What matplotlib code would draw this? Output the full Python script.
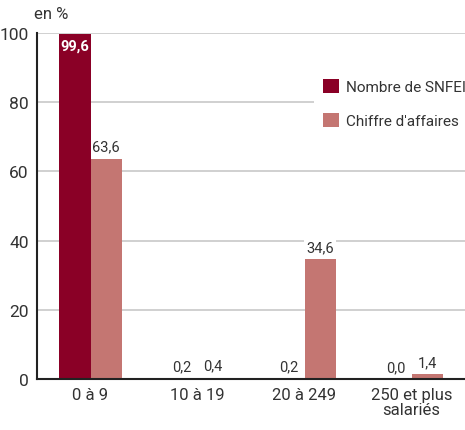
import numpy as np
import matplotlib.pyplot as plt

categories = ['0 à 9', '10 à 19', '20 à 249', '250 et plus\nsalariés']
nombre = [99.6, 0.2, 0.2, 0.0]
chiffre = [63.6, 0.4, 34.6, 1.4]
labels_nombre = ['99,6', '0,2', '0,2', '0,0']
labels_chiffre = ['63,6', '0,4', '34,6', '1,4']
series_names = ['Nombre de SNFEI', "Chiffre d'affaires"]
yticks = [0, 20, 40, 60, 80, 100]

dark = '#8a0026'
light = '#c47672'
txt = '#333333'

plt.rcParams['font.family'] = ['Roboto', 'DejaVu Sans']

fig = plt.figure(figsize=(4.65, 4.31), dpi=100)
ax = fig.add_axes([0.0796, 0.1183, 0.9204, 0.8028])

x = np.arange(len(categories))
w = 0.29
ax.bar(x - w / 2, nombre, w, color=dark, label=series_names[0], zorder=2)
ax.bar(x + w / 2, chiffre, w, color=light, label=series_names[1], zorder=2)

for i, (v, s) in enumerate(zip(nombre, labels_nombre)):
    if v > 90:
        ax.text(x[i] - w / 2, v - 1.2, s, ha='center', va='top', color='white',
                fontsize=10.5, fontweight='bold', zorder=3)
    else:
        ax.text(x[i] - w / 2, v + 1.5, s, ha='center', va='bottom', color=txt,
                fontsize=10.5, zorder=3)
for i, (v, s) in enumerate(zip(chiffre, labels_chiffre)):
    box = None
    if i > 0:
        box = dict(facecolor='white', edgecolor='none', pad=1.5)
    ax.text(x[i] + w / 2, v + 1.5, s, ha='center', va='bottom', color=txt,
            fontsize=10.5, zorder=3, bbox=box)

ax.set_xlim(-0.5, 3.5)
ax.set_ylim(0, 100)
ax.set_yticks(yticks)
ax.set_yticklabels([str(t) for t in yticks], fontsize=12.5, color=txt)
ax.set_xticks(x)
ax.set_xticklabels(categories, fontsize=12, color=txt, va='top', linespacing=1.0)
ax.tick_params(length=0, pad=6)
ax.tick_params(axis='y', pad=6)
ax.yaxis.grid(True, color='#c8c8c8', linewidth=1.2, zorder=0)
ax.set_axisbelow(True)
for s in ['top', 'right']:
    ax.spines[s].set_visible(False)
ax.spines['left'].set_linewidth(1.5)
ax.spines['bottom'].set_linewidth(1.5)
ax.spines['left'].set_color('#222222')
ax.spines['bottom'].set_color('#222222')

ax.text(-0.008, 1.035, 'en %', transform=ax.transAxes, ha='left', va='bottom',
        fontsize=12, color=txt)

leg = ax.legend(loc='upper left', bbox_to_anchor=(0.63, 0.915), frameon=True,
                fontsize=11, handlelength=1.0, handleheight=1.0,
                labelspacing=1.25, handletextpad=0.5, borderpad=0.6)
leg.get_frame().set_facecolor('white')
leg.get_frame().set_edgecolor('none')
leg.get_frame().set_alpha(1)
for t in leg.get_texts():
    t.set_color(txt)

fig.savefig('out.png', dpi=100)
